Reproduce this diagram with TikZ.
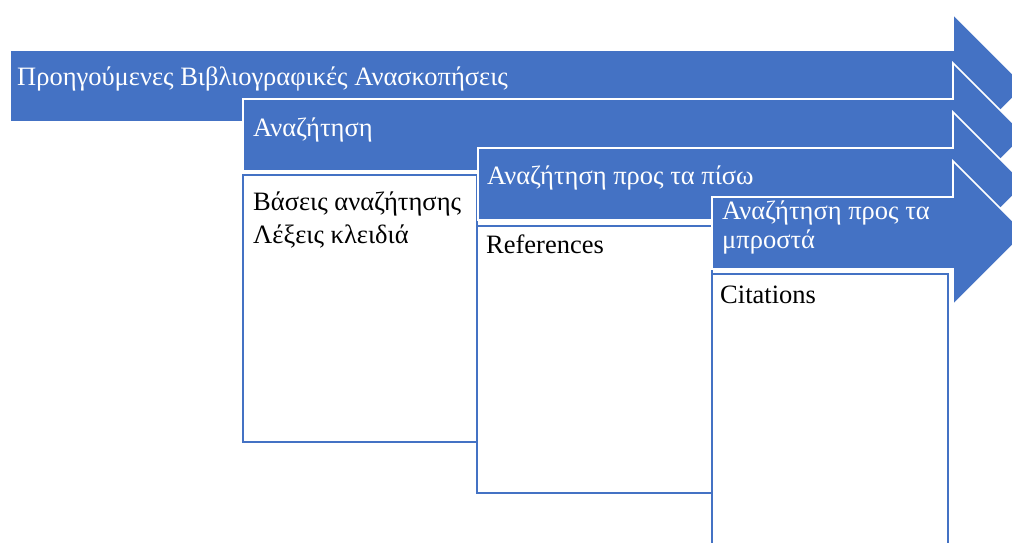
\documentclass[tikz,border=0pt]{standalone}
\usepackage{fontspec}
\setmainfont{Liberation Serif}
\definecolor{accent}{HTML}{4472C4}
\tikzset{
  stepbox/.style={draw=accent, fill=white, line width=2pt},
  steparrow/.style={fill=accent, draw=white, line width=1.6pt, line join=miter},
  lbl/.style={inner sep=0pt, anchor=base west, font=\fontsize{26.5}{30}\selectfont},
  arrowlbl/.style={lbl, text=white},
  boxlbl/.style={lbl, text=black}
}
\begin{document}
\begin{tikzpicture}[x=1pt, y=-1pt]
\useasboundingbox (0,0) rectangle (1012,543);
\clip (0,0) rectangle (1012,543);

% content boxes under each step
\draw[stepbox] (243,175) rectangle (477,442);
\draw[stepbox] (477,226) rectangle (712,493);
\draw[stepbox] (712,274) rectangle (948,580);

% stacked step arrows: shaft top y, left x
\foreach \lx/\ty in {10/50, 243/99, 478/148, 712/197} {
  \path[steparrow] (\lx,\ty) -- (953,\ty) -- (953,\ty-36) -- (1025,\ty+36)
    -- (953,\ty+108) -- (953,\ty+72) -- (\lx,\ty+72) -- cycle;
}

% step titles
\node[arrowlbl] (t1) at (17,85) {Προηγούμενες Βιβλιογραφικές Ανασκοπήσεις};
\node[arrowlbl] (t2) at (253,136) {Αναζήτηση};
\node[arrowlbl] (t3) at (487,184) {Αναζήτηση προς τα πίσω};
\node[arrowlbl] (t4a) at (722,219) {Αναζήτηση προς τα};
\node[arrowlbl] (t4b) at (722,248) {μπροστά};

% box contents
\node[boxlbl] (b1a) at (253,210) {Βάσεις αναζήτησης};
\node[boxlbl] (b1b) at (253,243) {Λέξεις κλειδιά};
\node[boxlbl] (b2) at (486,253) {References};
\node[boxlbl] (b3) at (720,303) {Citations};
\end{tikzpicture}
\end{document}
